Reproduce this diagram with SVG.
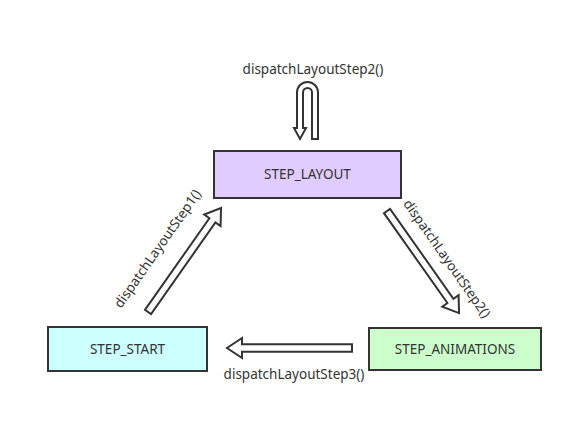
<svg xmlns="http://www.w3.org/2000/svg" width="573" height="426" viewBox="0 0 573 426">
<style>
.box{stroke:#333;stroke-width:2}
.arr{fill:#fff;stroke:#333;stroke-width:2;stroke-linejoin:miter}
text{font-family:"Noto Sans","Open Sans","DejaVu Sans",sans-serif;font-size:13.5px;fill:#333}
.c{text-anchor:middle}
</style>
<rect width="573" height="426" fill="#fff"/>
<g id="connectors">
<g id="loop-step2">
<path class="arr" d="M318,139 L318,92.5 A10.5,10.5 0 0 0 297,92.5 L297,128 L294,128 L300,139 L306,128 L303,128 L303,92.5 A4.5,4.5 0 0 1 312,92.5 L312,139 Z"/>
<text class="c" x="313" y="74">dispatchLayoutStep2()</text>
</g>
<g id="start-to-layout">
<polygon class="arr" transform="translate(148,312) rotate(-54.9)" points="0,-3.7 112,-3.7 112,-10 127,0 112,10 112,3.7 0,3.7"/>
<text class="c" transform="translate(158,249) rotate(-55)" x="0" y="4">dispatchLayoutStep1()</text>
</g>
<g id="layout-to-animations">
<polygon class="arr" transform="translate(387,211) rotate(54.8)" points="0,-3.7 110,-3.7 110,-10 125,0 110,10 110,3.7 0,3.7"/>
<text class="c" transform="translate(446.5,259) rotate(55)" x="0" y="4">dispatchLayoutStep2()</text>
</g>
<g id="animations-to-start">
<polygon class="arr" transform="translate(352,348) rotate(180)" points="0,-3.7 110,-3.7 110,-10 125,0 110,10 110,3.7 0,3.7"/>
<text class="c" x="294" y="379">dispatchLayoutStep3()</text>
</g>
</g>
<g id="step-layout">
<rect class="box" x="214" y="151" width="187" height="47" fill="#E1CCFF"/>
<text class="c" x="307.5" y="179">STEP_LAYOUT</text>
</g>
<g id="step-start">
<rect class="box" x="48" y="327" width="159" height="44" fill="#CCFFFF"/>
<text class="c" x="127.5" y="353.5">STEP_START</text>
</g>
<g id="step-animations">
<rect class="box" x="369" y="328" width="172" height="42" fill="#CCFFCC"/>
<text class="c" x="455" y="353.5">STEP_ANIMATIONS</text>
</g>
</svg>
